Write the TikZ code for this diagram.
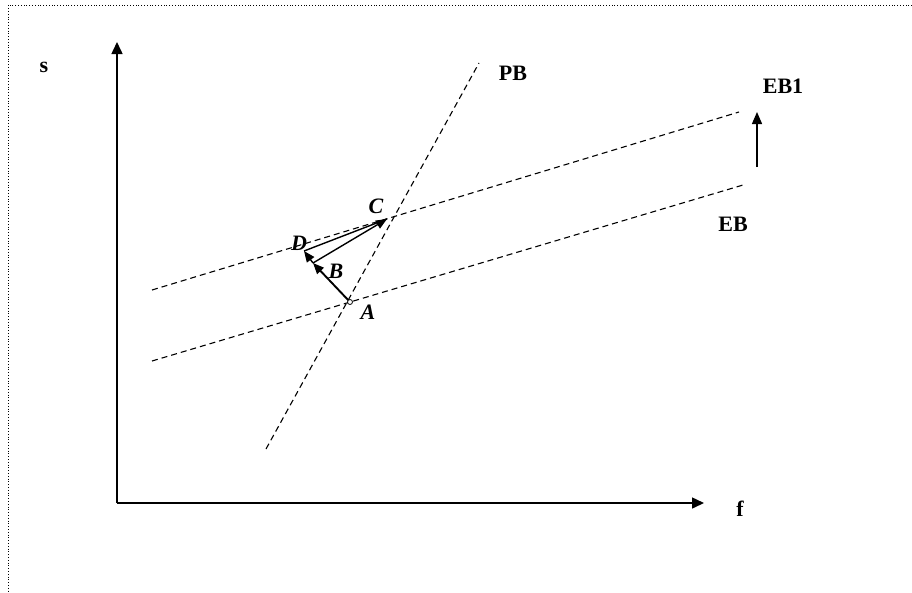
\documentclass[tikz,border=0pt]{standalone}
\usepackage{fontspec}
\setmainfont{Liberation Serif}
\usetikzlibrary{arrows.meta}
\begin{document}
\begin{tikzpicture}[x=1pt,y=-1pt,
  axis/.style={line width=1.5pt,-{Triangle[length=12pt,width=11pt]}},
  guide/.style={line width=1.1pt,dash pattern=on 6pt off 4pt},
  vec/.style={line width=1.4pt,-{Triangle[length=11pt,width=9pt]}},
  lab/.style={font=\fontsize{22}{26}\selectfont\bfseries,inner sep=0pt},
  ilab/.style={font=\fontsize{22}{26}\selectfont\bfseries\itshape,inner sep=0pt}]
\useasboundingbox (0,0) rectangle (912,592);
\fill[white] (0,0) rectangle (912,592);
% dotted frame
\draw[dotted,line width=0.8pt] (912,5) -- (8,5) -- (8,592);
% axes
\coordinate (O) at (117,503);
\coordinate (Ytop) at (117,42);
\coordinate (Xend) at (704,503);
\draw[axis] (O) -- (Ytop);
\draw[axis] (O) -- (Xend);
\node[lab] (s) at (44,67) {s};
\node[lab] (f) at (740,509) {f};
% lines
\coordinate (PB1) at (266,449);
\coordinate (PB2) at (479,63);
\coordinate (EBa) at (152,361);
\coordinate (EBb) at (743,185);
\coordinate (EBc) at (152,290);
\coordinate (EBd) at (739,112);
\draw[guide] (PB1) -- (PB2);
\draw[guide] (EBa) -- (EBb);
\draw[guide] (EBc) -- (EBd);
\node[lab] (PB) at (513,73) {PB};
\node[lab] (EBone) at (783,86) {EB1};
\node[lab] (EB) at (733,224) {EB};
% shift arrow
\coordinate (S1) at (757,167);
\coordinate (S2) at (757,112);
\draw[line width=1.4pt,-{Triangle[length=12pt,width=10pt]}] (S1) -- (S2);
% points
\coordinate (A) at (350,302);
\coordinate (B) at (313,263);
\coordinate (D) at (304,251);
\coordinate (C) at (387,219);
\draw[vec,line width=1.9pt] (A) -- (B);
\draw[vec] (B) -- (D);
\draw[line width=1.4pt] (D) -- (C);
\draw[vec] (B) -- (C);
\draw[line width=0.8pt,fill=white] (A) circle (2.5pt);
\node[ilab] (Al) at (368,312) {A};
\node[ilab] (Bl) at (336,271) {B};
\node[ilab] (Dl) at (299,243) {D};
\node[ilab] (Cl) at (376,206) {C};
\end{tikzpicture}
\end{document}
